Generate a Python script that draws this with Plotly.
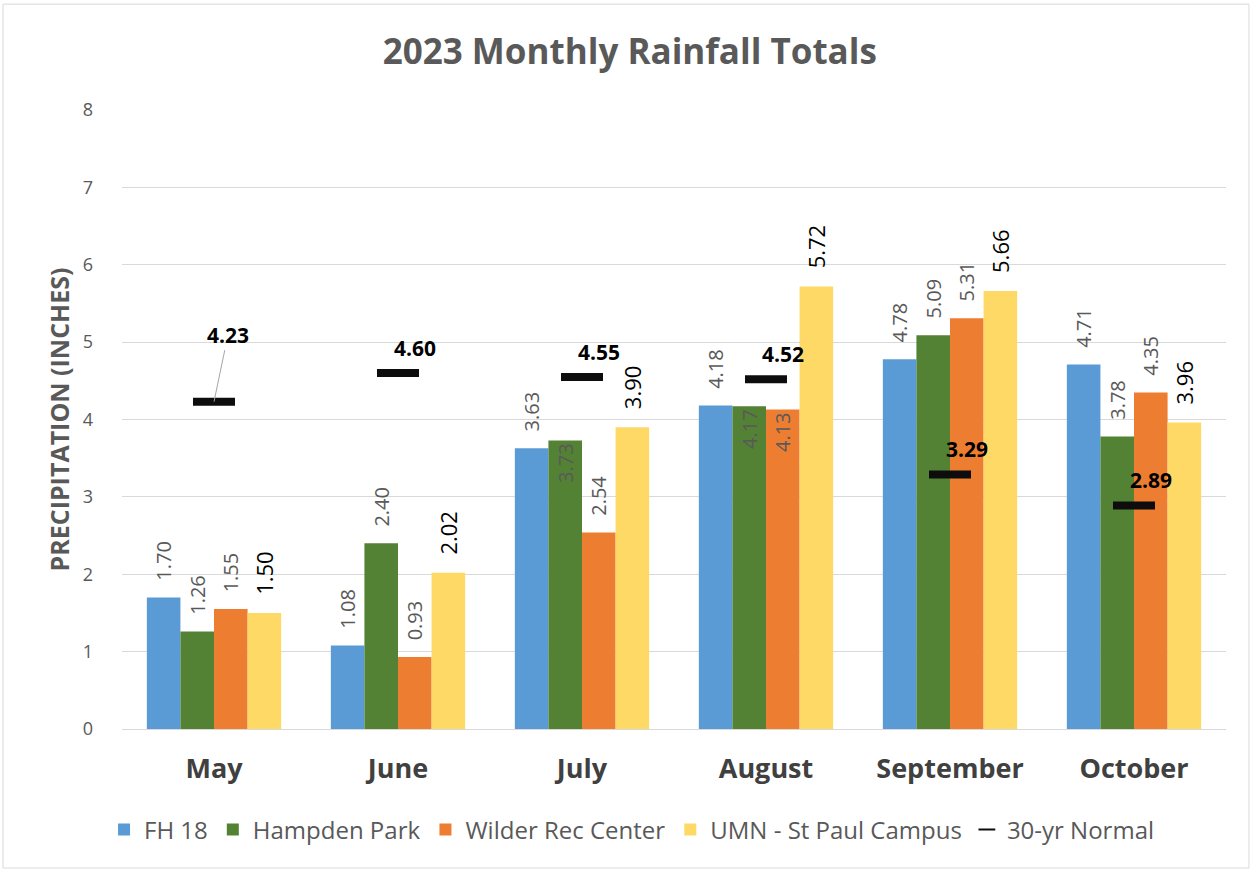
import plotly.graph_objects as go

months = ["May", "June", "July", "August", "September", "October"]
fh18 = [1.70, 1.08, 3.63, 4.18, 4.78, 4.71]
hampden = [1.26, 2.40, 3.73, 4.17, 5.09, 3.78]
wilder = [1.55, 0.93, 2.54, 4.13, 5.31, 4.35]
umn = [1.50, 2.02, 3.90, 5.72, 5.66, 3.96]
normal = [4.23, 4.60, 4.55, 4.52, 3.29, 2.89]

series_names = ["FH 18", "Hampden Park", "Wilder Rec Center", "UMN - St Paul Campus"]
series_vals = [fh18, hampden, wilder, umn]
colors = ["#5B9BD5", "#548235", "#ED7D31", "#FFD966"]
# labels drawn inside the bar top (moved labels in original)
inside_flags = [
    [False] * 6,
    [False, False, True, True, False, False],
    [False, False, False, True, False, False],
    [False] * 6,
]

FONT = "Open Sans, Noto Sans, sans-serif"
GRAY = "#595959"
NB = "\u00a0\u00a0\u2009"

fig = go.Figure()
for i, (name, vals, col) in enumerate(zip(series_names, series_vals, colors)):
    is_umn = i == 3
    texts = []
    positions = []
    for v, ins in zip(vals, inside_flags[i]):
        if ins:
            texts.append(f"{v:.2f}")
            positions.append("inside")
        else:
            texts.append(NB + f"{v:.2f}")
            positions.append("outside")
    tcol = "#000000" if is_umn else GRAY
    tsize = 22 if is_umn else 20
    fig.add_trace(go.Bar(
        name=name, x=months, y=vals, marker=dict(color=col, line=dict(width=0)),
        text=texts, textposition=positions, textangle=-90,
        insidetextanchor="end", constraintext="none", cliponaxis=False,
        textfont=dict(family=FONT, size=tsize, color=tcol),
        insidetextfont=dict(family=FONT, size=tsize, color=tcol),
        outsidetextfont=dict(family=FONT, size=tsize, color=tcol),
    ))

fig.add_trace(go.Scatter(
    name="30-yr Normal", x=months, y=normal, mode="markers",
    marker=dict(symbol="line-ew", size=30, color="#000000",
                line=dict(width=8, color="#0d0d0d")),
    cliponaxis=False,
))

annotations = []
for i, (m, v) in enumerate(zip(months, normal)):
    if i == 0:
        annotations.append(dict(
            x=m, y=v, xref="x", yref="y", text=f"<b>{v:.2f}</b>",
            showarrow=True, arrowhead=0, arrowwidth=1, arrowcolor="#a6a6a6",
            ax=14, ay=-67, font=dict(family=FONT, size=21, color="#000000"),
        ))
    else:
        annotations.append(dict(
            x=m, y=v, xref="x", yref="y", text=f"<b>{v:.2f}</b>",
            showarrow=False, xshift=17, yshift=25,
            font=dict(family=FONT, size=21, color="#000000"),
        ))

fig.update_layout(
    width=1252, height=871,
    margin=dict(l=122, r=26, t=110, b=142, autoexpand=False),
    paper_bgcolor="white", plot_bgcolor="white",
    barmode="group", bargap=0.27, bargroupgap=0,
    title=dict(text="<b>2023 Monthly Rainfall Totals</b>", x=0.503, xref="container",
               y=1 - 52 / 871, yanchor="middle", yref="container",
               font=dict(family=FONT, size=35, color=GRAY)),
    font=dict(family=FONT, color=GRAY),
    showlegend=True,
    legend=dict(orientation="h", x=0.462, xref="paper", xanchor="center",
                y=-0.163, yanchor="middle",
                font=dict(family=FONT, size=24, color=GRAY),
                itemsizing="constant", tracegroupgap=0),
    annotations=annotations,
    shapes=[dict(type="rect", xref="paper", yref="paper",
                 x0=-0.1078, x1=1.0208, y0=-0.2246, y1=1.171,
                 line=dict(color="#d9d9d9", width=1), layer="below")],
)
fig.update_yaxes(range=[0, 8], dtick=1, showgrid=True, gridcolor="#d9d9d9", gridwidth=1,
                 zeroline=True, zerolinecolor="#d9d9d9", zerolinewidth=1,
                 tickfont=dict(family=FONT, size=18, color=GRAY),
                 ticklabelstandoff=28, automargin=False,
                 title=dict(text="<b>PRECIPITATION (INCHES)</b>", standoff=5,
                            font=dict(family=FONT, size=25, color=GRAY)))
fig.update_xaxes(showgrid=False, showline=False, automargin=False, tickangle=0,
                 tickfont=dict(family=FONT, size=27, color="#404040"),
                 ticklabelstandoff=21,
                 tickprefix="<b>", ticksuffix="</b>")

fig.write_html("out.html")
